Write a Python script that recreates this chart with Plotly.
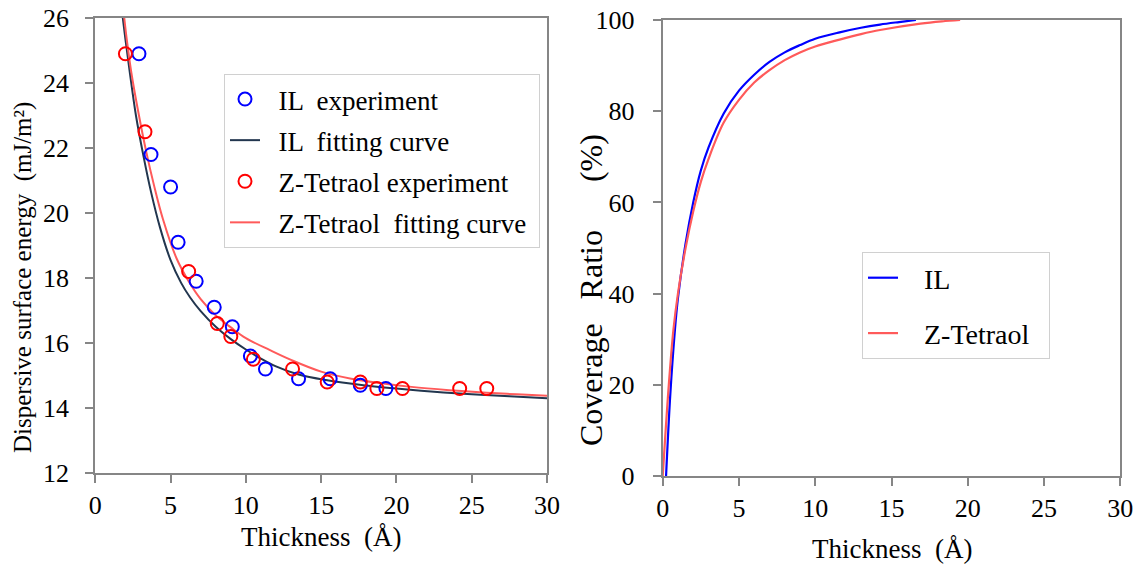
import plotly.graph_objects as go

# ---------------- data ----------------
il_exp_x = [2.9, 3.7, 5.0, 5.5, 6.7, 7.9, 9.1, 10.3, 11.3, 13.5, 15.6, 17.6, 19.3]
il_exp_y = [24.9, 21.8, 20.8, 19.1, 17.9, 17.1, 16.5, 15.6, 15.2, 14.9, 14.9, 14.7, 14.6]

zt_exp_x = [2.0, 3.3, 6.2, 8.1, 9.0, 10.5, 13.1, 15.4, 17.6, 18.7, 20.4, 24.2, 26.0]
zt_exp_y = [24.9, 22.5, 18.2, 16.6, 16.2, 15.5, 15.2, 14.8, 14.8, 14.6, 14.6, 14.6, 14.6]

il_fit_x = [1.8, 2.0, 2.3, 2.7, 3.2, 3.7, 4.3, 5.0, 5.7, 6.3, 7.0, 8.0, 9.0, 10.0, 11.0,
            12.0, 13.5, 15.3, 17.8, 20.0, 22.5, 25.0, 27.5, 30.0]
il_fit_y = [26.1, 25.35, 24.3, 23.0, 21.75, 20.65, 19.55, 18.55, 17.85, 17.4, 16.98, 16.5,
            16.12, 15.8, 15.52, 15.28, 15.03, 14.86, 14.7, 14.6, 14.5, 14.42, 14.36, 14.3]

zt_fit_x = [1.9, 2.1, 2.4, 2.9, 3.4, 3.9, 4.5, 5.4, 6.2, 7.0, 8.0, 9.0, 10.0, 11.6,
            13.0, 15.0, 17.0, 19.0, 21.0, 23.5, 26.0, 28.0, 30.0]
zt_fit_y = [26.1, 25.3, 24.3, 23.0, 21.85, 20.85, 19.8, 18.6, 17.9, 17.35, 16.85, 16.48,
            16.15, 15.78, 15.48, 15.12, 14.9, 14.76, 14.65, 14.55, 14.47, 14.42, 14.38]

il_cov_x = [0.22, 0.5, 0.8, 1.0, 1.5, 2.0, 2.5, 3.0, 4.0, 5.0, 6.0, 7.0, 8.0, 9.0,
            10.0, 11.6, 13.0, 14.25, 15.5, 16.6]
il_cov_y = [0, 18, 32, 39, 51, 60, 67, 72, 79.5, 84.5, 88, 90.8, 92.9, 94.5,
            95.9, 97.3, 98.3, 99.0, 99.55, 100]

zt_cov_x = [0.0, 0.4, 0.7, 1.0, 1.5, 2.0, 2.5, 3.0, 4.0, 5.0, 6.0, 7.0, 8.0, 9.0,
            10.0, 11.6, 13.0, 14.25, 16.9, 18.3, 19.5]
zt_cov_y = [0, 20, 32, 40, 50, 58, 64.5, 69.5, 77.5, 82.5, 86.3, 89, 91.2, 92.9,
            94.2, 95.7, 96.9, 97.8, 99.2, 99.7, 100]

x_ticks = [0, 5, 10, 15, 20, 25, 30]
left_y_ticks = [12, 14, 16, 18, 20, 22, 24, 26]
right_y_ticks = [0, 20, 40, 60, 80, 100]

# ---------------- styles ----------------
FONT = "Times New Roman, Liberation Serif, serif"
AX = "#868686"
BLUE = "#0000FF"
RED = "#FF0000"
NAVY = "#22364F"
LRED = "#FF5A5A"
NB = "\u00a0"

W, H = 1141, 564
L_DOM_X = [95.3 / W, 547 / W]
L_DOM_Y = [1 - 473 / H, 1 - 18 / H]
R_DOM_X = [662.7 / W, 1120.3 / W]
R_DOM_Y = [1 - 476 / H, 1 - 20 / H]

fig = go.Figure()

fig.add_trace(go.Scatter(x=il_fit_x, y=il_fit_y, mode="lines", name=NB * 2 + "IL  fitting curve",
                         line=dict(color=NAVY, width=2, shape="spline", smoothing=1.0),
                         xaxis="x", yaxis="y", legend="legend", legendgroup="a2", legendrank=2))
fig.add_trace(go.Scatter(x=zt_fit_x, y=zt_fit_y, mode="lines", name=NB * 2 + "Z-Tetraol  fitting curve" + NB,
                         line=dict(color=LRED, width=2, shape="spline", smoothing=1.0),
                         xaxis="x", yaxis="y", legend="legend", legendgroup="a4", legendrank=4))
fig.add_trace(go.Scatter(x=il_exp_x, y=il_exp_y, mode="markers", name=NB * 2 + "IL  experiment",
                         marker=dict(symbol="circle-open", size=13, color=BLUE, line=dict(width=2, color=BLUE)),
                         xaxis="x", yaxis="y", legend="legend", legendgroup="a1", legendrank=1))
fig.add_trace(go.Scatter(x=zt_exp_x, y=zt_exp_y, mode="markers", name=NB * 2 + "Z-Tetraol experiment",
                         marker=dict(symbol="circle-open", size=13, color=RED, line=dict(width=2, color=RED)),
                         xaxis="x", yaxis="y", legend="legend", legendgroup="a3", legendrank=3))

fig.add_trace(go.Scatter(x=il_cov_x, y=il_cov_y, mode="lines", name=NB * 3 + "IL",
                         line=dict(color=BLUE, width=2.2, shape="spline", smoothing=1.0),
                         xaxis="x2", yaxis="y2", legend="legend2", legendgroup="b1"))
fig.add_trace(go.Scatter(x=zt_cov_x, y=zt_cov_y, mode="lines", name=NB * 3 + "Z-Tetraol" + NB * 2,
                         line=dict(color=LRED, width=2.2, shape="spline", smoothing=1.0),
                         xaxis="x2", yaxis="y2", legend="legend2", legendgroup="b2"))

# empty helper traces so the label-only overlay axes get drawn
fig.add_trace(go.Scatter(x=[None], y=[None], xaxis="x", yaxis="y3", showlegend=False, hoverinfo="skip"))
fig.add_trace(go.Scatter(x=[None], y=[None], xaxis="x2", yaxis="y4", showlegend=False, hoverinfo="skip"))

axis_common = dict(showgrid=False, zeroline=False, showline=True, linecolor=AX, linewidth=2,
                   mirror=True, ticks="outside", ticklen=8, tickwidth=2, tickcolor=AX,
                   automargin=False,
                   tickfont=dict(family=FONT, size=26, color="#000"))

label_axis = dict(showgrid=False, zeroline=False, showline=False, ticks="outside",
                  tickwidth=1, tickcolor="rgba(0,0,0,0)", automargin=False, side="left",
                  tickfont=dict(family=FONT, size=26, color="#000"))

fig.update_layout(
    width=W, height=H,
    margin=dict(l=0, r=0, t=0, b=0, pad=0, autoexpand=False),
    paper_bgcolor="white", plot_bgcolor="white",
    font=dict(family=FONT, color="#000"),
    showlegend=True,
    xaxis=dict(domain=L_DOM_X, range=[0, 30], tickvals=x_ticks, anchor="y", **axis_common),
    yaxis=dict(domain=L_DOM_Y, range=[12, 26], tickvals=left_y_ticks, anchor="x",
               showticklabels=False, **axis_common),
    yaxis3=dict(domain=L_DOM_Y, range=[12, 26], tickvals=left_y_ticks, anchor="x", overlaying="y",
                ticklen=20, **label_axis),
    xaxis2=dict(domain=R_DOM_X, range=[0, 30], tickvals=x_ticks, anchor="y2", **axis_common),
    yaxis2=dict(domain=R_DOM_Y, range=[0, 100], tickvals=right_y_ticks, anchor="x2",
                showticklabels=False, **axis_common),
    yaxis4=dict(domain=R_DOM_Y, range=[0, 100], tickvals=right_y_ticks, anchor="x2", overlaying="y2",
                ticklen=22, **label_axis),
    legend=dict(x=224 / W, y=1 - 74 / H, xanchor="left", yanchor="top",
                bgcolor="white", bordercolor="#D0D0D0", borderwidth=1,
                font=dict(family=FONT, size=27, color="#000"),
                tracegroupgap=3, traceorder="grouped"),
    legend2=dict(x=862 / W, y=1 - 252 / H, xanchor="left", yanchor="top",
                 bgcolor="white", bordercolor="#D0D0D0", borderwidth=1,
                 font=dict(family=FONT, size=28, color="#000"),
                 tracegroupgap=16, traceorder="grouped"),
    annotations=[
        dict(text="Dispersive surface energy" + NB * 2 + "(mJ/m²)",
             x=23 / W, y=1 - 278 / H, xref="paper", yref="paper",
             textangle=-90, showarrow=False, xanchor="center", yanchor="middle",
             font=dict(family=FONT, size=25, color="#000")),
        dict(text="Thickness" + NB * 2 + "(Å)", x=321 / W, y=1 - 537 / H, xref="paper", yref="paper",
             showarrow=False, xanchor="center", yanchor="middle",
             font=dict(family=FONT, size=27, color="#000")),
        dict(text="Coverage" + NB * 3 + "Ratio" + NB * 6 + "(%)", x=591 / W, y=1 - 290 / H, xref="paper", yref="paper",
             textangle=-90, showarrow=False, xanchor="center", yanchor="middle",
             font=dict(family=FONT, size=32, color="#000")),
        dict(text="Thickness" + NB * 2 + "(Å)", x=891.5 / W, y=1 - 549 / H, xref="paper", yref="paper",
             showarrow=False, xanchor="center", yanchor="middle",
             font=dict(family=FONT, size=27, color="#000")),
    ],
)

fig.write_html("out.html")
